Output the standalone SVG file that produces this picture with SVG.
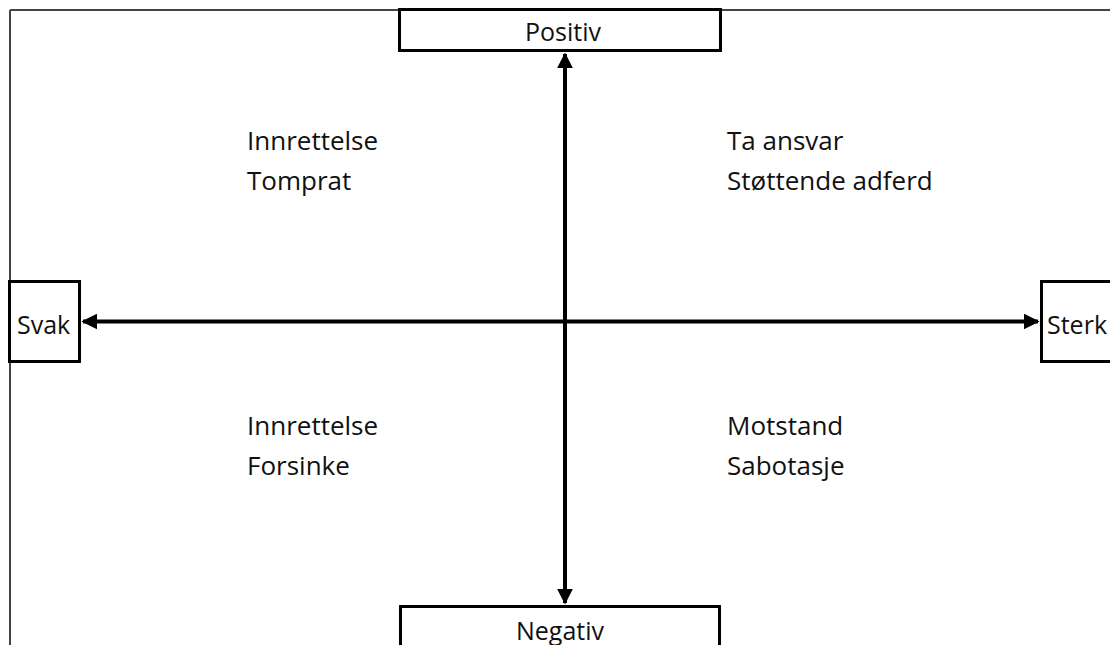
<svg xmlns="http://www.w3.org/2000/svg" width="1110" height="645" viewBox="0 0 1110 645">
<style>
.box{fill:#fff;stroke:#000;stroke-width:3}
.t{font-family:"Open Sans","Noto Sans",sans-serif;font-size:25px;fill:#111}
.q{font-family:"Open Sans","Noto Sans",sans-serif;font-size:26px;fill:#111}
.ax{stroke:#000;stroke-width:4;fill:none}
</style>
<defs>
<marker id="ah" viewBox="0 0 10 10" refX="9" refY="5" markerWidth="4" markerHeight="4" orient="auto-start-reverse" markerUnits="strokeWidth">
<path d="M0,0 L10,5 L0,10 Z" fill="#000"/>
</marker>
</defs>
<rect x="0" y="0" width="1110" height="645" fill="#fff"/>
<g id="frame">
<line x1="10" y1="10" x2="1110" y2="10" stroke="#444" stroke-width="2"/>
<line x1="10" y1="10" x2="10" y2="645" stroke="#444" stroke-width="2"/>
</g>
<g id="connectors">
<line class="ax" x1="565" y1="54" x2="565" y2="603" marker-start="url(#ah)" marker-end="url(#ah)"/>
<line class="ax" x1="83" y1="321.5" x2="1038" y2="321.5" marker-start="url(#ah)" marker-end="url(#ah)"/>
</g>
<g id="positiv">
<rect class="box" x="399.5" y="9.5" width="321" height="41"/>
<text class="t" x="563" y="41" text-anchor="middle">Positiv</text>
</g>
<g id="negativ">
<rect class="box" x="400.5" y="606.5" width="319" height="60"/>
<text class="t" x="560" y="640" text-anchor="middle">Negativ</text>
</g>
<g id="svak">
<rect class="box" x="9.5" y="281.5" width="70" height="80"/>
<text class="t" x="17" y="334">Svak</text>
</g>
<g id="sterk">
<rect class="box" x="1041.5" y="281.5" width="80" height="80"/>
<text class="t" x="1047" y="334">Sterk</text>
</g>
<g id="q1">
<text class="q" x="247" y="150">Innrettelse</text>
<text class="q" x="247" y="190">Tomprat</text>
</g>
<g id="q2">
<text class="q" x="727" y="150">Ta ansvar</text>
<text class="q" x="727" y="190">Støttende adferd</text>
</g>
<g id="q3">
<text class="q" x="247" y="435">Innrettelse</text>
<text class="q" x="247" y="475">Forsinke</text>
</g>
<g id="q4">
<text class="q" x="727" y="435">Motstand</text>
<text class="q" x="727" y="475">Sabotasje</text>
</g>
</svg>
